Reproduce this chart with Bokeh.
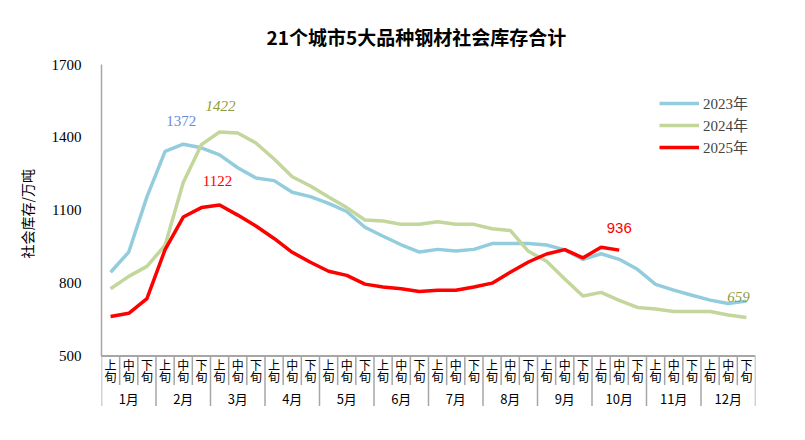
import numpy as np

from bokeh.plotting import figure
from bokeh.models import Range1d, FixedTicker, Label, Legend, LegendItem, Title
from bokeh.core.properties import value
from bokeh.embed import file_html
from bokeh.resources import INLINE

# 36 ten-day periods (上/中/下旬 of each month)
months = ["1月", "2月", "3月", "4月", "5月", "6月",
          "7月", "8月", "9月", "10月", "11月", "12月"]
xun = ["上", "中", "下"]
y_ticks = [500, 800, 1100, 1400, 1700]

stock_2023 = [845, 928, 1155, 1342, 1372, 1357, 1328, 1275, 1233, 1222, 1174, 1156,
              1128, 1095, 1030, 993, 958, 928, 939, 932, 939, 963, 963, 963,
              957, 937, 898, 921, 898, 857, 795, 771, 750, 730, 716, 726]
stock_2024 = [777, 828, 869, 956, 1214, 1370, 1422, 1418, 1377, 1311, 1238, 1200,
              1155, 1111, 1060, 1056, 1042, 1042, 1053, 1042, 1042, 1024, 1017, 931,
              890, 817, 747, 762, 729, 700, 694, 683, 683, 683, 669, 659]
stock_2025 = [663, 676, 736, 938, 1072, 1111, 1122, 1080, 1035, 984, 927, 886,
              849, 832, 796, 784, 777, 766, 771, 771, 784, 800, 845, 887,
              920, 938, 904, 948, 936]

BLUE = "#93CDDD"
GREEN = "#C3D69B"
RED = "#FF0000"
GRID_GREY = "#A6A6A6"

Y0, Y1 = 284, 1700
FRAME_H = 344
UPP = (Y1 - Y0) / FRAME_H   # data units per pixel


def below(px):
    # y position px pixels under the 500 baseline
    return 500 - px * UPP


p = figure(width=797, height=432,
           x_range=Range1d(0, 36), y_range=Range1d(Y0, Y1),
           min_border_left=101, min_border_right=42,
           min_border_top=64, min_border_bottom=24,
           output_backend="svg", toolbar_location=None,
           outline_line_color=None, background_fill_color="white")
p.xaxis.visible = False
p.grid.visible = False

p.title.text = "21个城市5大品种钢材社会库存合计"
p.title.align = "left"
p.title.offset = 165
p.title.standoff = 30
p.title.text_font = "Noto Sans CJK SC"
p.title.text_font_style = "bold"
p.title.text_font_size = "19px"
p.title.text_color = "black"

yax = p.yaxis[0]
yax.bounds = (500, 1700)
yax.ticker = FixedTicker(ticks=y_ticks)
yax.major_tick_line_color = None
yax.minor_tick_line_color = None
yax.major_tick_out = 0
yax.major_label_standoff = 20
yax.axis_line_color = GRID_GREY
yax.axis_line_width = 1.5
yax.major_label_text_font = "Liberation Serif"
yax.major_label_text_font_size = "15px"
yax.major_label_text_color = "black"

# y caption as a left-side title so it can sit off-centre like the original
p.add_layout(Title(text="社会库存/万吨", align="left", offset=150, standoff=24,
                   text_font="Noto Sans CJK SC", text_font_size="14px",
                   text_font_style="normal", text_color="black"), "left")

# category table under the plot
sep_x = list(range(37))
sep_bottom = [below(50) if i % 3 == 0 else below(29) for i in sep_x]
p.segment(x0=sep_x, y0=[500] * 37, x1=sep_x, y1=sep_bottom,
          line_color=GRID_GREY, line_width=1.5)
p.segment(x0=[0], y0=[500], x1=[36], y1=[500], line_color=GRID_GREY, line_width=2)

cat_x = np.arange(36) + 0.5
p.text(x=cat_x, y=[below(8)] * 36, text=xun * 12,
       text_font=value("Noto Sans CJK SC"), text_font_size="12px",
       text_align="center", text_baseline="middle", text_color="black")
p.text(x=cat_x, y=[below(20)] * 36, text=["旬"] * 36,
       text_font=value("Noto Sans CJK SC"), text_font_size="12px",
       text_align="center", text_baseline="middle", text_color="black")
p.text(x=np.arange(12) * 3 + 1.5, y=[below(42)] * 12, text=months,
       text_font=value("Noto Sans CJK SC"), text_font_size="13px",
       text_align="center", text_baseline="middle", text_color="black")

# series
r23 = p.line(np.arange(len(stock_2023)) + 0.5, stock_2023, line_color=BLUE, line_width=3.5)
r24 = p.line(np.arange(len(stock_2024)) + 0.5, stock_2024, line_color=GREEN, line_width=3.5)
r25 = p.line(np.arange(len(stock_2025)) + 0.5, stock_2025, line_color=RED, line_width=3.5)

legend = Legend(items=[LegendItem(label="2023年", renderers=[r23]),
                       LegendItem(label="2024年", renderers=[r24]),
                       LegendItem(label="2025年", renderers=[r25])],
                location=(558, 251), padding=0, margin=0, spacing=1,
                glyph_width=40, glyph_height=20, label_height=20, label_standoff=4,
                border_line_color=None, background_fill_alpha=0,
                label_text_font="Liberation Serif, Noto Sans CJK SC",
                label_text_font_size="15px")
p.add_layout(legend)


def point_label(text, idx, series, dx, dy, color, font="Liberation Serif", style="normal"):
    p.add_layout(Label(x=idx + 0.5, y=series[idx], x_offset=dx, y_offset=dy, text=text,
                       text_align="center", text_baseline="middle",
                       text_font=font, text_font_style=style,
                       text_font_size="15px", text_color=color))


point_label(str(stock_2023[4]), 4, stock_2023, -2, 23, "#6A8CD6")
point_label(str(stock_2024[6]), 6, stock_2024, 1, 26, "#8F9C45", style="italic")
point_label(str(stock_2025[6]), 6, stock_2025, -2, 24, RED)
point_label(str(stock_2025[28]), 28, stock_2025, 0, 22, RED, font="Liberation Sans")
point_label(str(stock_2024[35]), 35, stock_2024, -8, 20, "#8F9C45", style="italic")

open("out.html", "w").write(file_html(p, INLINE))
